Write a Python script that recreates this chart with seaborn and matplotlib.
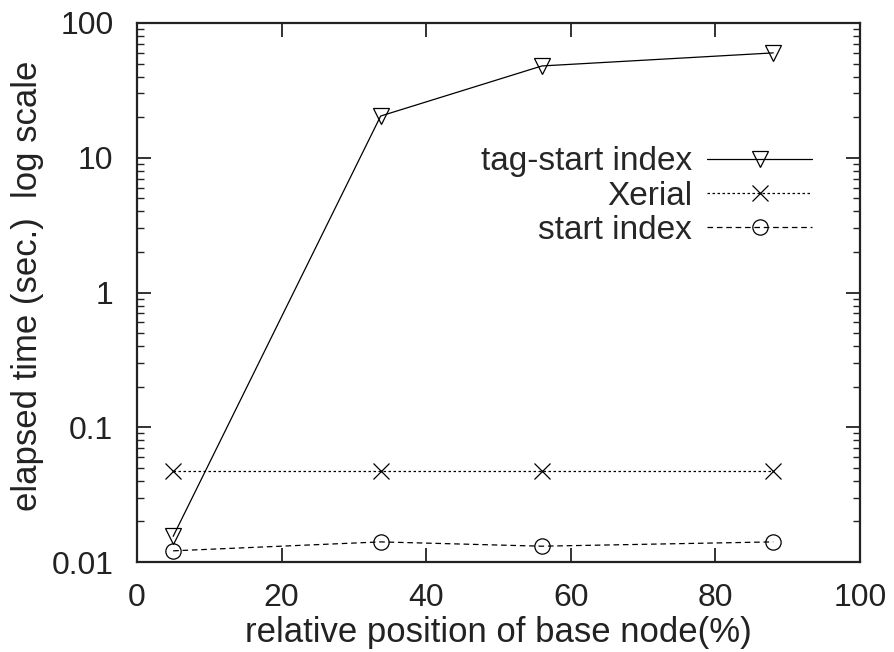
import matplotlib
matplotlib.use("Agg")
import matplotlib.pyplot as plt
import seaborn as sns
import pandas as pd
from matplotlib.ticker import LogLocator, FixedLocator, NullFormatter

sns.set_theme(style="white")
plt.rcParams['font.family'] = ['Liberation Sans', 'DejaVu Sans']

# ---- data ----
positions = [5.0, 33.7, 56.0, 88.0]
tag_start = [0.0155, 20.4, 48.0, 60.0]
xerial = [0.0475, 0.0475, 0.0475, 0.0475]
start_index = [0.0121, 0.0141, 0.0131, 0.0141]
series_names = ["tag-start index", "Xerial", "start index"]
x_ticks = [0, 20, 40, 60, 80, 100]
y_ticks = [0.01, 0.1, 1, 10, 100]
y_tick_labels = ["0.01", "0.1", "1", "10", "100"]

df = pd.DataFrame({
    "x": positions * 3,
    "y": tag_start + xerial + start_index,
    "series": [series_names[0]] * 4 + [series_names[1]] * 4 + [series_names[2]] * 4,
})

fig = plt.figure(figsize=(8.95, 6.52), dpi=100)
ax = fig.add_axes([137/895, 1-562/652, (860-137)/895, (562-23)/652])

styles = {
    "tag-start index": dict(marker="v", dashes=None, ms=12),
    "Xerial": dict(marker="x", dashes=(2.0, 2.0), ms=11),
    "start index": dict(marker="o", dashes=(4.5, 3.0), ms=11),
}
for name in series_names:
    sub = df[df.series == name]
    st = styles[name]
    sns.lineplot(x="x", y="y", data=sub, ax=ax, color="black", linewidth=0.9,
                 marker=st["marker"], markersize=st["ms"], label=name,
                 markerfacecolor="none" if st["marker"] != "x" else "black",
                 markeredgecolor="black", markeredgewidth=0.9, estimator=None)
    l = ax.lines[-1]
    if st["dashes"] is not None:
        l.set_dashes(st["dashes"])

ax.set_yscale("log")
ax.set_xlim(0, 100)
ax.set_ylim(0.01, 100)
ax.xaxis.set_major_locator(FixedLocator(x_ticks))
ax.set_xticklabels([str(t) for t in x_ticks])
ax.yaxis.set_major_locator(FixedLocator(y_ticks))
ax.set_yticklabels(y_tick_labels)
ax.yaxis.set_minor_locator(LogLocator(base=10, subs=range(2, 10)))
ax.yaxis.set_minor_formatter(NullFormatter())

for sp in ax.spines.values():
    sp.set_color("#222222")
    sp.set_linewidth(1.6)

ax.tick_params(axis="both", which="major", direction="in", length=10, width=1.3,
               top=True, right=True, labelsize=23, colors="#222222",
               left=True, bottom=True)
ax.tick_params(axis="x", which="major", pad=15)
ax.tick_params(axis="y", which="major", pad=17)
ax.tick_params(axis="y", which="minor", direction="in", length=5, width=1.0,
               left=True, right=True, colors="#222222")

ax.set_xlabel("relative position of base node(%)", fontsize=25, color="#222222", labelpad=2)
ax.set_ylabel("elapsed time (sec.)  log scale", fontsize=25, color="#222222", labelpad=3)
ax.yaxis.set_label_coords(-0.128, 0.512)

handles, labels = ax.get_legend_handles_labels()
ax.legend(handles, labels, loc="upper right", bbox_to_anchor=(0.934, 0.771),
          markerfirst=False, frameon=False, fontsize=24, handlelength=3.15,
          handletextpad=0.45, labelspacing=0.1, borderaxespad=0, borderpad=0)

fig.savefig("out.png", dpi=100)
